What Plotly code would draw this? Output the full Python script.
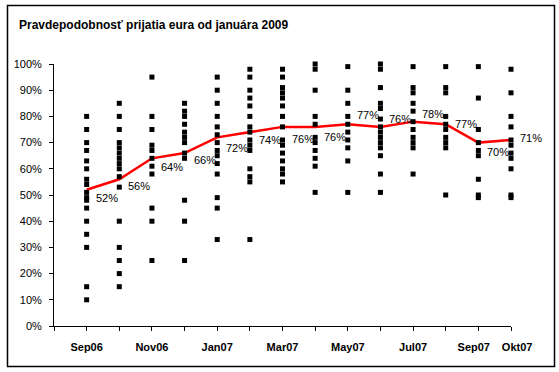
import plotly.graph_objects as go

# ---- data ----
months = ["Sep06", "Okt06", "Nov06", "Dec06", "Jan07", "Feb07", "Mar07",
          "Apr07", "May07", "Jun07", "Jul07", "Aug07", "Sep07", "Okt07"]
tick_labels = ["Sep06", "", "Nov06", "", "Jan07", "", "Mar07",
               "", "May07", "", "Jul07", "", "Sep07", "Okt07"]
average = [52, 56, 64, 66, 72, 74, 76, 76, 77, 76, 78, 77, 70, 71]

sep06 = [80, 75, 70, 67, 63, 60, 56, 54, 51, 49, 48, 45, 40, 35, 30, 15, 10]
okt06 = [85, 80, 75, 70, 68, 66, 64, 62, 60, 57, 53, 40, 30, 25, 20, 15]
nov06 = [95, 80, 75, 69, 67, 64, 61, 58, 45, 40, 25]
dec06 = [85, 82, 80, 77, 74, 72, 70, 66, 64, 48, 40, 25]
jan07 = [95, 90, 85, 80, 76, 73, 70, 67, 65, 62, 58, 49, 45, 33]
feb07 = [98, 95, 90, 87, 84, 80, 76, 74, 71, 69, 67, 60, 57, 55, 33]
mar07 = [98, 95, 91, 89, 87, 84, 80, 76, 71, 69, 66, 63, 60, 58, 55]
apr07 = [100, 98, 90, 80, 77, 72, 70, 67, 64, 61, 51]
may07 = [99, 90, 85, 80, 77, 74, 71, 68, 63, 51]
jun07 = [100, 98, 91, 85, 83, 79, 76, 74, 72, 70, 68, 65, 58, 51]
jul07 = [99, 91, 89, 85, 82, 78, 75, 72, 70, 68, 58]
aug07 = [99, 91, 89, 80, 77, 75, 72, 70, 68, 50]
sep07 = [99, 87, 75, 70, 67, 65, 56, 50, 49]
okt07 = [98, 89, 80, 76, 71, 69, 66, 64, 60, 50, 49]

samples = [sep06, okt06, nov06, dec06, jan07, feb07, mar07,
           apr07, may07, jun07, jul07, aug07, sep07, okt07]

# ---- styling helpers (not data) ----
FONT = "Liberation Sans, Arial, sans-serif"
label_dy = [8, 7, 9, 7, 11, 8, 12, 10, -9, -8, -8, 0, 9, -2]
NB = "\u00a0"
# the last two tick labels are nudged apart, as in the original
tick_pad_left = [0] * 13 + [4]
tick_pad_right = [0] * 12 + [3, 0]

xs, ys = [], []
for i, vals in enumerate(samples):
    for v in vals:
        xs.append(i)
        ys.append(v)

fig = go.Figure()

fig.add_trace(go.Scatter(
    x=list(range(len(months))), y=average, mode="lines",
    line=dict(color="#ff0000", width=2.5), cliponaxis=False,
    hoverinfo="skip", showlegend=False))

fig.add_trace(go.Scatter(
    x=xs, y=ys, mode="markers",
    marker=dict(symbol="square", size=5, color="black", line=dict(width=0)),
    cliponaxis=False, showlegend=False))

for i, v in enumerate(average):
    fig.add_annotation(
        x=i, y=v, text=f"{v}%", showarrow=False,
        xanchor="left", yanchor="middle", xshift=7, yshift=-label_dy[i],
        font=dict(family=FONT, size=11, color="black"))

W, H = 559, 372
L, R, T, B = 54, 48, 64, 46
pw, ph = W - L - R, H - T - B

def px_x(p):
    return (p - L) / pw

def px_y(p):
    return (H - B - p) / ph

fig.add_shape(type="rect", xref="paper", yref="paper",
              x0=px_x(7.5), x1=px_x(554.5), y0=px_y(366.5), y1=px_y(5.5),
              line=dict(color="black", width=1.5), fillcolor="rgba(0,0,0,0)",
              layer="above")

ticktext = [""]
for i, t in enumerate(tick_labels):
    if t:
        ticktext.append(NB * tick_pad_left[i] + f"<b>{t}</b>" + NB * tick_pad_right[i])
    else:
        ticktext.append("")

fig.update_layout(
    width=W, height=H,
    margin=dict(l=L, r=R, t=T, b=B, autoexpand=False),
    paper_bgcolor="white", plot_bgcolor="white",
    showlegend=False, hovermode=False,
    title=dict(text="<b>Pravdepodobnosť prijatia eura od januára 2009</b>",
               x=19 / W, xref="container", xanchor="left",
               y=1 - 25 / H, yref="container", yanchor="middle",
               font=dict(family=FONT, size=12, color="black")),
    font=dict(family=FONT, size=11, color="black"),
)

fig.update_xaxes(
    range=[-1, len(months) - 1],
    tickmode="array",
    tickvals=list(range(-1, len(months))),
    ticktext=ticktext,
    tickangle=0, automargin=False,
    showline=True, linecolor="black", linewidth=1,
    ticks="outside", ticklen=4, tickcolor="black", tickwidth=1,
    showgrid=False, zeroline=False,
    tickfont=dict(family=FONT, size=11, color="black"),
    ticklabelstandoff=7,
)

fig.update_yaxes(
    range=[0, 100], tickmode="linear", tick0=0, dtick=10, ticksuffix="%",
    automargin=False,
    showline=True, linecolor="black", linewidth=1,
    ticks="outside", ticklen=4, tickcolor="black", tickwidth=1,
    showgrid=False, zeroline=False,
    tickfont=dict(family=FONT, size=11, color="black"),
    ticklabelstandoff=5,
)

fig.write_html(
    "out.html",
    config={"displayModeBar": False, "staticPlot": True},
    post_script="document.body.style.margin='0';document.body.style.overflow='hidden';",
)
